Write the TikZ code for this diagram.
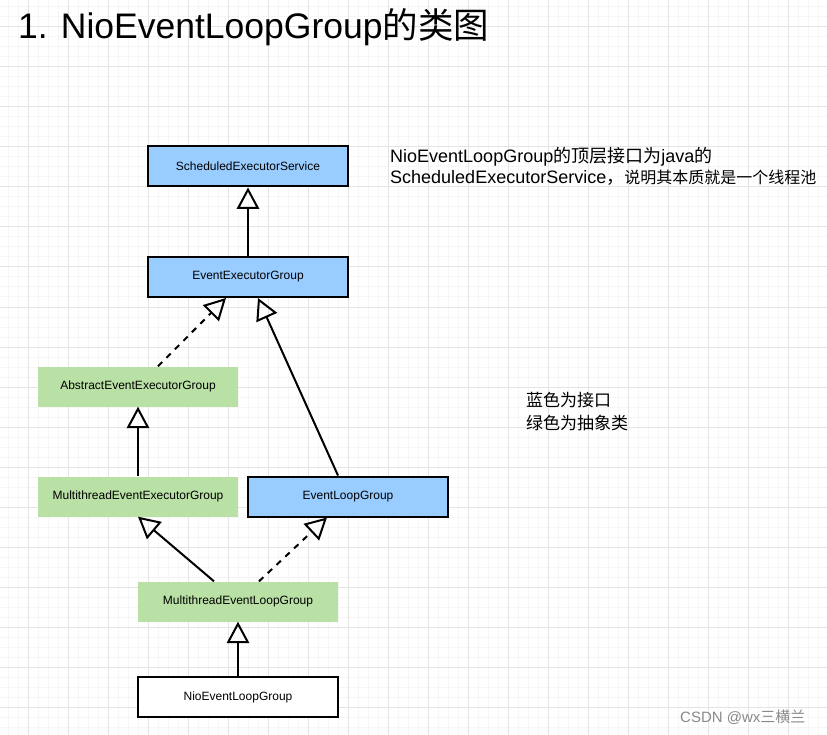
\documentclass[tikz,border=0pt]{standalone}
\usepackage{fontspec}
\setmainfont{Liberation Sans}
\newfontfamily\cjk{Noto Sans CJK SC}
\usetikzlibrary{arrows.meta}
\definecolor{ifblue}{HTML}{99CCFF}
\definecolor{absgreen}{HTML}{B9E0A5}
\definecolor{gridmajor}{HTML}{E4E4E4}
\definecolor{gridminor}{HTML}{F6F6F6}
\definecolor{wmgray}{HTML}{8A8A8A}
\begin{document}
\begin{tikzpicture}[x=1pt,y=-1pt,
  cls/.style={rectangle, minimum width=200pt, minimum height=40pt, inner sep=0pt, font=\fontsize{12}{14}\selectfont},
  iface/.style={cls, draw=black, line width=2pt, fill=ifblue},
  abst/.style={cls, fill=absgreen},
  concrete/.style={cls, draw=black, line width=2pt, fill=white},
  inherit/.style={line width=2pt, -{Triangle[open, length=21.5pt, width=22.5pt]}},
  realize/.style={inherit, dash pattern=on 6pt off 6pt},
  minorline/.style={gridminor, line width=1pt},
  majorline/.style={gridmajor, line width=1pt},
  txt/.style={inner sep=0pt, anchor=base west},
]
\useasboundingbox (0,0) rectangle (827,735);
\fill[white] (0,0) rectangle (827,735);
% grid
\foreach \x in {8,18,...,818} {\draw[minorline] (\x,0) -- (\x,735);}
\foreach \y in {7,17,...,727} {\draw[minorline] (0,\y) -- (827,\y);}
\foreach \x in {28,68,...,788} {\draw[majorline] (\x,0) -- (\x,735);}
\foreach \y in {27,67,...,707} {\draw[majorline] (0,\y) -- (827,\y);}

% title
\node[txt, font=\fontsize{35.5}{40}\selectfont] (title) at (18,39) {1. NioEventLoopGroup{\cjk 的类图}};

% annotations
\node[txt, font=\fontsize{18}{21}\selectfont] (note1) at (390,162.7) {NioEventLoopGroup{\cjk 的顶层接口为}java{\cjk 的}};
\node[txt, font=\fontsize{18}{21}\selectfont] (note2) at (390,184) {ScheduledExecutorService{\cjk ，}{\cjk\fontsize{16}{19}\selectfont 说明其本质就是一个线程池}};
\node[txt, font=\fontsize{17}{20}\selectfont\cjk] (legend1) at (526,406.5) {蓝色为接口};
\node[txt, font=\fontsize{17}{20}\selectfont\cjk] (legend2) at (526,429) {绿色为抽象类};

% classes
\node[iface] (ses) at (248,166.5) {ScheduledExecutorService};
\node[iface] (eeg) at (248,277) {EventExecutorGroup};
\node[abst] (aeeg) at (138,386.5) {AbstractEventExecutorGroup};
\node[abst] (meeg) at (138,496.5) {MultithreadEventExecutorGroup};
\node[iface] (elg) at (348,496.5) {EventLoopGroup};
\node[abst] (melg) at (238,601.5) {MultithreadEventLoopGroup};
\node[concrete] (nelg) at (238,697) {NioEventLoopGroup};

% relations
\draw[inherit] (eeg.north) -- (ses.south);
\draw[realize] ([xshift=20pt]aeeg.north) -- ([xshift=-22pt]eeg.south);
\draw[inherit] ([xshift=-10pt]elg.north) -- ([xshift=10pt]eeg.south);
\draw[inherit] (meeg.north) -- (aeeg.south);
\draw[inherit] ([xshift=-24pt]melg.north) -- (meeg.south);
\draw[realize] ([xshift=21pt]melg.north) -- ([xshift=-21pt]elg.south);
\draw[inherit] (nelg.north) -- (melg.south);

% watermark
\node[txt, font=\fontsize{15}{17}\selectfont, text=wmgray] (wm) at (680,722) {CSDN @wx{\cjk 三横兰}};
\end{tikzpicture}
\end{document}
